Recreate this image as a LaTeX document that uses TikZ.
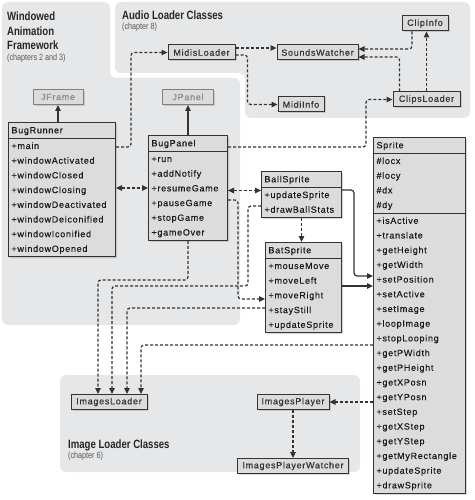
\documentclass[tikz,border=0pt]{standalone}
\usepackage{fontspec}
\setmainfont{Liberation Sans}
\newfontfamily\classfont[LetterSpace=8, FakeBold=0.3]{Liberation Sans}
\newfontfamily\headfont[FakeStretch=0.8]{Liberation Sans}
\usetikzlibrary{positioning, arrows.meta, shapes.multipart, shadows}

\definecolor{panelgray}{HTML}{E6E7E9}
\definecolor{boxgray}{HTML}{DCDCDC}
\definecolor{linegray}{HTML}{333333}
\definecolor{libgray}{HTML}{8A8A8A}

\begin{document}
\begin{tikzpicture}
    [
        x=1pt, y=-1pt, >={Triangle[length=6pt, width=5.5pt]},
        panel/.style={fill=panelgray, rounded corners=6pt},
        title_text/.style={font=\headfont\bfseries\fontsize{12}{14.75}\selectfont, align=left, inner sep=0pt, text=black!85},
        sub_text/.style={font=\headfont\fontsize{9}{11}\selectfont, inner sep=0pt, text=black!65},
        class_box/.style={rectangle split, rectangle split parts=#1, draw=linegray, fill=boxgray, line width=1pt, inner xsep=3pt, inner ysep=0pt, align=left, text=black!90, font=\classfont\fontsize{9}{14.7}\selectfont, drop shadow={shadow xshift=1.5pt, shadow yshift=-1.5pt, opacity=0.3}},
        small_box/.style={draw=linegray, fill=boxgray, line width=1pt, minimum height=15pt, inner xsep=4pt, inner ysep=0pt, text=black!80, font=\classfont\fontsize{9}{14.7}\selectfont, drop shadow={shadow xshift=1.5pt, shadow yshift=-1.5pt, opacity=0.3}},
        lib_box/.style={small_box, draw=gray, text=libgray},
        dep_line/.style={dash pattern=on 3pt off 2pt, line width=1.2pt, color=linegray, rounded corners=3pt},
        gen_line/.style={line width=1.2pt, color=linegray, rounded corners=3pt},
    ]
        \useasboundingbox (0,0) rectangle (474,500) ;
        % package panels
        \fill[panel] (2,2) -- (110,2) -- (110,78) -- (240,78) -- (240,325) -- (2,325) -- cycle ;
        \fill[panel] (115,2) -- (470,2) -- (470,118) -- (245,118) -- (245,73) -- (115,73) -- cycle ;
        \fill[panel] (60,375) rectangle (360,472) ;
        \node[title_text, anchor=north west] (waf_title) at (7,11.5) {Windowed\\Animation\\Framework} ;
        \node[sub_text, below=4pt of waf_title.south west, anchor=north west] (waf_sub) {(chapters 2 and 3)} ;
        \node[title_text, anchor=north west] (audio_title) at (122,11) {Audio Loader Classes} ;
        \node[sub_text, below=3pt of audio_title.south west, anchor=north west] (audio_sub) {(chapter 8)} ;
        \node[title_text, anchor=north west] (image_title) at (68,439.6) {Image Loader Classes} ;
        \node[sub_text, below=1pt of image_title.south west, anchor=north west] (image_sub) {(chapter 6)} ;
        % classes
        \node[class_box=2, text width=101pt, anchor=north west] (bug_runner) at (8,122) {\strut BugRunner
            \nodepart{second}\strut+main\\\strut+windowActivated\\\strut+windowClosed\\\strut+windowClosing\\\strut+windowDeactivated\\\strut+windowDeiconified\\\strut+windowIconified\\\strut+windowOpened} ;
        \node[class_box=2, text width=73pt, anchor=north west] (bug_panel) at (148,135) {\strut BugPanel
            \nodepart{second}\strut+run\\\strut+addNotify\\\strut+resumeGame\\\strut+pauseGame\\\strut+stopGame\\\strut+gameOver} ;
        \node[class_box=2, text width=74pt, anchor=north west] (ball_sprite) at (261,171) {\strut BallSprite
            \nodepart{second}\strut+updateSprite\\\strut+drawBallStats} ;
        \node[class_box=2, text width=70pt, anchor=north west] (bat_sprite) at (265,242) {\strut BatSprite
            \nodepart{second}\strut+mouseMove\\\strut+moveLeft\\\strut+moveRight\\\strut+stayStill\\\strut+updateSprite} ;
        \node[class_box=3, text width=86pt, anchor=north west] (sprite) at (373,137) {\strut Sprite
            \nodepart{second}\strut\#locx\\\strut\#locy\\\strut\#dx\\\strut\#dy
            \nodepart{third}\strut+isActive\\\strut+translate\\\strut+getHeight\\\strut+getWidth\\\strut+setPosition\\\strut+setActive\\\strut+setImage\\\strut+loopImage\\\strut+stopLooping\\\strut+getPWidth\\\strut+getPHeight\\\strut+getXPosn\\\strut+getYPosn\\\strut+setStep\\\strut+getXStep\\\strut+getYStep\\\strut+getMyRectangle\\\strut+updateSprite\\\strut+drawSprite} ;
        \node[lib_box, minimum width=50pt] (jframe) at (58,97) {JFrame} ;
        \node[lib_box, minimum width=51pt] (jpanel) at (188,97) {JPanel} ;
        \node[small_box, minimum width=67pt] (midis_loader) at (201.5,52.5) {MidisLoader} ;
        \node[small_box, minimum width=81pt] (sounds_watcher) at (317.5,52.5) {SoundsWatcher} ;
        \node[small_box, minimum width=46pt] (clip_info) at (425,23.5) {ClipInfo} ;
        \node[small_box, minimum width=46pt] (midi_info) at (301,104.5) {MidiInfo} ;
        \node[small_box, minimum width=67pt] (clips_loader) at (426.5,99.5) {ClipsLoader} ;
        \node[small_box, minimum width=76pt] (images_loader) at (109,402) {ImagesLoader} ;
        \node[small_box, minimum width=72pt] (images_player) at (293,402) {ImagesPlayer} ;
        \node[small_box, minimum width=111pt, below=48pt of images_player, on grid] (images_player_watcher) {ImagesPlayerWatcher} ;
        % inheritance
        \draw[->, gen_line] (jframe.south |- bug_runner.north) -- (jframe.south) ;
        \draw[->, gen_line] (jpanel.south |- bug_panel.north) -- (jpanel.south) ;
        \draw[->, gen_line] ([yshift=-19pt]ball_sprite.north east) -- ++(12,0) |- ([yshift=-139pt]sprite.north west) ;
        \draw[->, gen_line] ([yshift=-44pt]bat_sprite.north east) -- ([yshift=-44pt]bat_sprite.north east -| sprite.west) ;
        % uses
        \draw[->, dep_line] ([yshift=-25pt]bug_runner.north east) -- ++(15,0) |- (midis_loader.west) ;
        \draw[<->, dep_line] (bug_runner.east |- bug_panel.west) -- (bug_panel.west) ;
        \draw[<->, dep_line] ([yshift=4pt]bug_panel.east |- ball_sprite.west) -- ([yshift=4pt]ball_sprite.west) ;
        \draw[->, dep_line] ([yshift=-12pt]bug_panel.north east) -- ++(138,0) |- (clips_loader.west) ;
        \draw[->, dep_line] ([yshift=4.5pt]midis_loader.east) -- ([yshift=4.5pt]sounds_watcher.west) ;
        \draw[->, dep_line] ([yshift=-2.5pt]midis_loader.east) -- ++(12,0) |- (midi_info.west) ;
        \draw[->, dep_line] ([xshift=-13pt]clip_info.south) |- ([yshift=3.5pt]sounds_watcher.east) ;
        \draw[->, dep_line] ([xshift=-27pt]clips_loader.north) |- ([yshift=-4.5pt]sounds_watcher.east) ;
        \draw[->, dep_line] (clips_loader.north) -- (clips_loader.north |- clip_info.south) ;
        \draw[->, dep_line] (ball_sprite.south) -- (ball_sprite.south |- bat_sprite.north) ;
        \draw[->, dep_line] ([yshift=-65pt]bug_panel.north east) -- ++(10,0) |- ([yshift=-57pt]bat_sprite.north west) ;
        \draw[->, dep_line] (bug_panel.south) -- ++(0,39) -| ([xshift=-11pt]images_loader.north) ;
        \draw[->, dep_line] ([yshift=-35pt]ball_sprite.north west) -- ++(-13,0) -- ++(0,80) -| ([xshift=3pt]images_loader.north) ;
        \draw[->, dep_line] ([yshift=-66pt]bat_sprite.north west) -| ([xshift=18pt]images_loader.north) ;
        \draw[->, dep_line] ([yshift=-208pt]sprite.north west) -| ([xshift=32pt]images_loader.north) ;
        \draw[->, dep_line] (sprite.west |- images_player.east) -- (images_player.east) ;
        \draw[->, dep_line] (images_player.south) -- (images_player_watcher.north) ;
    \end{tikzpicture}
\end{document}
